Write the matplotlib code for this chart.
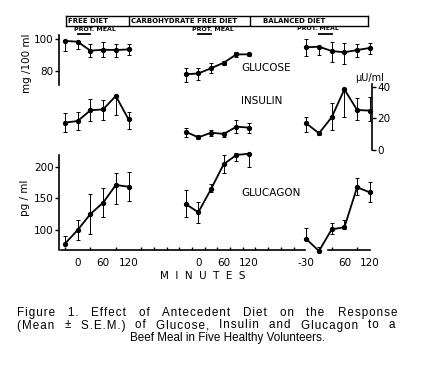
import numpy as np
import matplotlib.pyplot as plt

W, H = 434, 374

# minutes relative to the beef meal, same for every diet
times = [-30, 0, 30, 60, 90, 120]
diets = ["FREE DIET", "CARBOHYDRATE FREE DIET", "BALANCED DIET"]

# glucose mg/100 ml : free, carbohydrate free, balanced
glucose = [[98.8, 98.3, 92.7, 93.3, 93.1, 93.5],
           [77.9, 78.5, 81.7, 85.2, 90.4, 90.4],
           [94.8, 95.2, 92.5, 91.7, 93.1, 94.4]]
glucose_lo = [[6.0, 4.8, 3.8, 4.8, 4.2, 3.5],
              [4.6, 4.2, 3.1, 1.5, 1.9, 1.0],
              [5.4, 5.2, 6.7, 7.3, 4.2, 3.8]]
glucose_hi = [[0.6, 0.0, 4.0, 5.0, 3.5, 3.3],
              [3.8, 3.1, 3.1, 1.3, 1.7, 0.6],
              [5.0, 0.4, 5.8, 5.6, 3.5, 2.9]]

# insulin uU/ml
insulin = [[17.4, 18.4, 25.2, 25.8, 34.3, 19.5],
           [11.6, 8.0, 11.0, 10.2, 14.8, 14.2],
           [16.9, 10.6, 20.8, 38.5, 25.4, 25.0]]
insulin_lo = [[5.7, 5.7, 6.8, 6.8, 12.1, 6.1],
              [3.2, 1.3, 1.9, 1.7, 3.8, 3.2],
              [5.3, 1.0, 8.0, 17.4, 6.3, 6.3]]
insulin_hi = [[6.3, 5.9, 7.0, 5.9, 0.0, 4.9],
              [2.1, 1.5, 1.7, 1.5, 4.2, 2.8],
              [4.2, 1.0, 8.9, 0.0, 7.4, 8.5]]

# glucagon pg/ml
glucagon = [[79.0, 100.5, 125.6, 143.4, 171.2, 168.6],
            [141.4, 128.3, 164.9, 204.2, 218.4, 220.5],
            [86.3, 67.4, 101.5, 104.7, 167.6, 159.7]]
glucagon_lo = [[0.0, 15.7, 32.0, 22.0, 30.4, 22.0],
               [21.0, 17.3, 5.2, 13.6, 8.9, 20.4],
               [0.0, 0.0, 7.9, 2.0, 12.0, 14.7]]
glucagon_hi = [[12.0, 15.7, 30.9, 22.5, 18.3, 22.5],
               [22.0, 16.8, 7.9, 14.2, 2.6, 0.0],
               [16.8, 6.8, 9.4, 11.5, 14.2, 15.7]]

meal = [0, 30]

caption = ["Figure 1. Effect of Antecedent Diet on the Response",
           "(Mean \u00b1 S.E.M.) of Glucose, Insulin and Glucagon to a",
           "Beef Meal in Five Healthy Volunteers."]


def px_box(l, t, r, b):
    return [l / W, 1 - b / H, (r - l) / W, (b - t) / H]


def ftext(x, y, s, **kw):
    return fig.text(x / W, 1 - y / H, s, **kw)


offsets = [0, 285, 570]      # each diet block on the shared minutes axis
xlim = (-44.2, 690.5)

fig = plt.figure(figsize=(W / 100, H / 100), dpi=100)

ax_glu = fig.add_axes(px_box(59, 35, 370, 85))
ax_ins = fig.add_axes(px_box(59, 84, 370, 150))
ax_gcg = fig.add_axes(px_box(59, 155, 370, 250))

for ax in (ax_glu, ax_ins, ax_gcg):
    ax.set_xlim(xlim)
    ax.patch.set_alpha(0)
    for s in ax.spines.values():
        s.set_visible(False)
        s.set_linewidth(1.2)
    ax.set_xticks([])
    ax.tick_params(axis="y", direction="out", length=3, width=1,
                   labelsize=7.5, pad=1)

ax_glu.set_ylim(71.25, 102.5)
ax_glu.spines["left"].set_visible(True)
ax_glu.set_yticks([80, 100])

ax_ins.set_ylim(0, 41.9)
ax_ins.spines["right"].set_visible(True)
ax_ins.spines["right"].set_position(("outward", 1.5))
ax_ins.yaxis.tick_right()
ax_ins.set_yticks([0, 20, 40])

ax_gcg.set_ylim(69, 218.4)
ax_gcg.spines["left"].set_visible(True)
ax_gcg.set_yticks([100, 150, 200])
ax_gcg.set_xticks(np.arange(-30, 691, 30), minor=True)
lab_pos = [0, 60, 120, offsets[1], offsets[1] + 60, offsets[1] + 120,
           offsets[2] - 30, offsets[2] + 60, offsets[2] + 120]
ax_gcg.set_xticks(lab_pos)
ax_gcg.set_xticklabels(["0", "60", "120", "0", "60", "120", "-30", "60", "120"])
ax_gcg.tick_params(axis="x", which="major", length=0, labelsize=7.5, pad=6)
ax_gcg.tick_params(axis="x", which="minor", direction="in", length=2.5, width=1)
# bottom axis is broken where the balanced-diet dip touches it
xt = ax_gcg.get_xaxis_transform()
ax_gcg.plot([-40, 537], [0, 0], transform=xt, color="k", lw=1.2, clip_on=False)
ax_gcg.plot([591, 690.5], [0, 0], transform=xt, color="k", lw=1.2, clip_on=False)

for ax, m, lo, hi in ((ax_glu, glucose, glucose_lo, glucose_hi),
                      (ax_ins, insulin, insulin_lo, insulin_hi),
                      (ax_gcg, glucagon, glucagon_lo, glucagon_hi)):
    for k in range(3):
        x = np.array(times) + offsets[k]
        ax.errorbar(x, m[k], yerr=[lo[k], hi[k]], fmt="-o", color="black",
                    ms=2.8, lw=1.3, elinewidth=0.7, capsize=1.5, capthick=0.7)
    for c in ax.get_children():
        if hasattr(c, "set_clip_on") and c not in ax.spines.values():
            c.set_clip_on(False)

# protein meal bars
for k in range(3):
    ax_glu.plot([offsets[k] + meal[0], offsets[k] + meal[1]], [103.4, 103.4],
                color="black", lw=1.3, clip_on=False)

# diet header box
hdr = fig.add_axes(px_box(66, 16, 368, 26))
hdr.set_xlim(66, 368)
hdr.set_ylim(26, 16)
hdr.set_xticks([])
hdr.set_yticks([])
for s in hdr.spines.values():
    s.set_linewidth(1)
hdr.axvline(129, color="black", lw=1)
hdr.axvline(250, color="black", lw=1)
for xx, d in zip([68, 131, 263], diets):
    hdr.text(xx, 21.3, d, fontsize=5, fontweight="bold", ha="left", va="center")

for xx, yy in zip([74, 192, 297], [29.5, 29.5, 28.5]):
    ftext(xx, yy, "PROT. MEAL", fontsize=4.5, fontweight="bold",
          ha="left", va="center")

ftext(241, 68, "GLUCOSE", fontsize=7.5, ha="left", va="center")
ftext(241, 101, "INSULIN", fontsize=7.5, ha="left", va="center")
ftext(241, 193, "GLUCAGON", fontsize=7.5, ha="left", va="center")

ftext(27, 63, "mg /100 ml", fontsize=7.5, rotation=90, ha="center", va="center")
ftext(25, 198, "pg / ml", fontsize=7.5, rotation=90, ha="center", va="center")
ftext(370, 78, "\u03bcU/ml", fontsize=7, ha="center", va="center")
ftext(203, 276, "M  I  N  U  T  E  S", fontsize=7.5, ha="center", va="center")

# caption: first two lines are justified (lightly letter-spaced), last one centred
cap_kw = dict(fontsize=8.4, family=["Liberation Sans", "DejaVu Sans"], va="center")
renderer = fig.canvas.get_renderer()
for yy, line, (x0, x1) in zip([313, 325.5], caption[:2], [(17, 397), (17, 395)]):
    words = line.split()
    objs = [ftext(0, yy, "\u200a".join(w), ha="left", **cap_kw) for w in words]
    widths = [o.get_window_extent(renderer).width for o in objs]
    gap = (x1 - x0 - sum(widths)) / (len(words) - 1)
    xx = x0
    for o, wd in zip(objs, widths):
        o.set_x(xx / W)
        xx += wd + gap
ftext(228, 337.5, caption[2], ha="center", **cap_kw)

fig.savefig("out.png", dpi=100)
